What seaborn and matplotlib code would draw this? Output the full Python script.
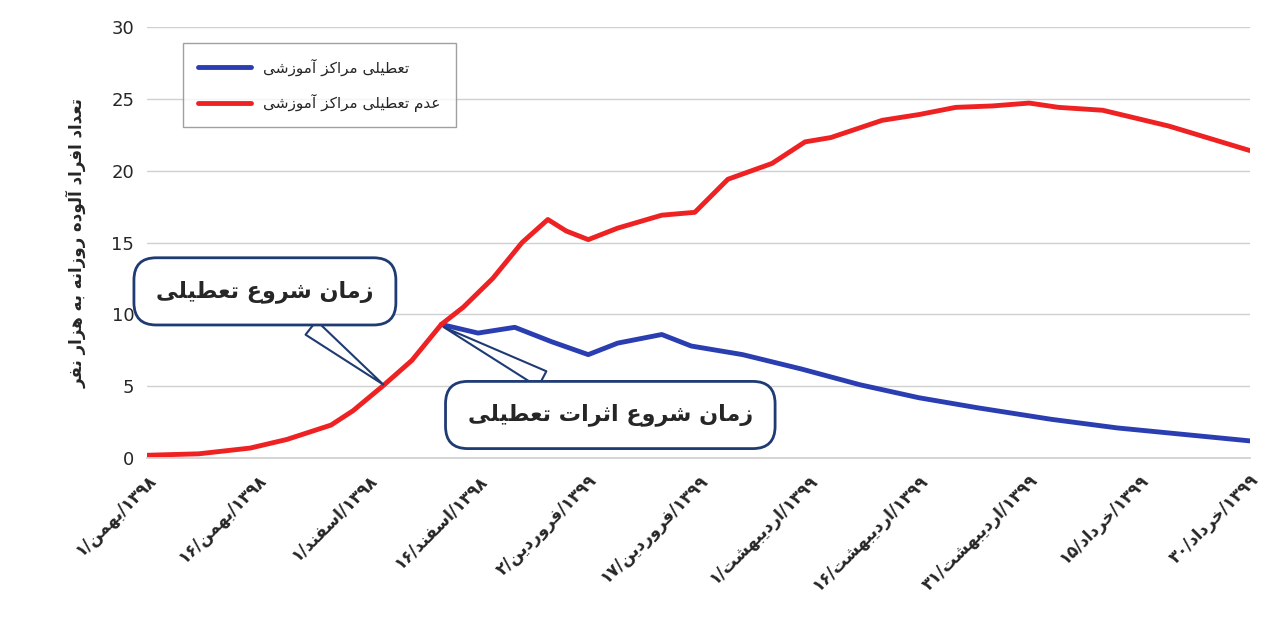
import matplotlib
matplotlib.use("Agg")
import matplotlib.pyplot as plt
import seaborn as sns
import pandas as pd

# ---- data ----
red_days = [0, 7, 14, 19, 25, 28, 32, 36, 40, 43, 47, 51, 54.5, 57, 60, 64, 70, 74.5, 79, 85, 89.5, 93, 100, 105, 110, 115, 120, 124, 130, 139, 150]
red_vals = [0.2, 0.3, 0.7, 1.3, 2.3, 3.3, 5.0, 6.8, 9.3, 10.5, 12.5, 15.0, 16.6, 15.8, 15.2, 16.0, 16.9, 17.1, 19.4, 20.5, 22.0, 22.3, 23.5, 23.9, 24.4, 24.5, 24.7, 24.4, 24.2, 23.1, 21.4]
blue_days = [40, 45, 50, 55, 60, 64, 70, 74, 81, 89, 97, 105, 113, 123, 132, 142, 150]
blue_vals = [9.3, 8.7, 9.1, 8.1, 7.2, 8.0, 8.6, 7.8, 7.2, 6.2, 5.1, 4.2, 3.5, 2.7, 2.1, 1.6, 1.2]
tick_days = [0, 15, 30, 45, 60, 75, 90, 105, 120, 135, 150]
tick_dd = ["۱", "۱۶", "۱", "۱۶", "۲", "۱۷", "۱", "۱۶", "۳۱", "۱۵", "۳۰"]
tick_month = ["بهمن", "بهمن", "اسفند", "اسفند", "فروردین", "فروردین", "اردیبهشت", "اردیبهشت", "اردیبهشت", "خرداد", "خرداد"]
tick_year = ["۱۳۹۸"] * 4 + ["۱۳۹۹"] * 7
blue_name = "تعطیلی مراکز آموزشی"
red_name = "عدم تعطیلی مراکز آموزشی"
ylabel = "تعداد افراد آلوده روزانه به هزار نفر"
note1 = "زمان شروع تعطیلی"
note2 = "زمان شروع اثرات تعطیلی"

# ---- minimal Persian shaping ----
F = {
 'ا': (0xFE8D, 0xFE8E, None, None), 'آ': (0xFE81, 0xFE82, None, None),
 'د': (0xFEA9, 0xFEAA, None, None), 'ر': (0xFEAD, 0xFEAE, None, None),
 'ز': (0xFEAF, 0xFEB0, None, None), 'و': (0xFEED, 0xFEEE, None, None),
 'ب': (0xFE8F, 0xFE90, 0xFE91, 0xFE92), 'پ': (0xFB56, 0xFB57, 0xFB58, 0xFB59),
 'ت': (0xFE95, 0xFE96, 0xFE97, 0xFE98), 'ث': (0xFE99, 0xFE9A, 0xFE9B, 0xFE9C),
 'ج': (0xFE9D, 0xFE9E, 0xFE9F, 0xFEA0), 'خ': (0xFEA5, 0xFEA6, 0xFEA7, 0xFEA8),
 'س': (0xFEB1, 0xFEB2, 0xFEB3, 0xFEB4), 'ش': (0xFEB5, 0xFEB6, 0xFEB7, 0xFEB8),
 'ط': (0xFEC1, 0xFEC2, 0xFEC3, 0xFEC4), 'ع': (0xFEC9, 0xFECA, 0xFECB, 0xFECC),
 'ف': (0xFED1, 0xFED2, 0xFED3, 0xFED4), 'ق': (0xFED5, 0xFED6, 0xFED7, 0xFED8),
 'ک': (0xFB8E, 0xFB8F, 0xFB90, 0xFB91), 'ل': (0xFEDD, 0xFEDE, 0xFEDF, 0xFEE0),
 'م': (0xFEE1, 0xFEE2, 0xFEE3, 0xFEE4), 'ن': (0xFEE5, 0xFEE6, 0xFEE7, 0xFEE8),
 'ه': (0xFEE9, 0xFEEA, 0xFEEB, 0xFEEC), 'ی': (0xFBFC, 0xFBFD, 0xFBFE, 0xFBFF),
}

def shape(s):
    out = []
    for i, c in enumerate(s):
        if c not in F:
            out.append(c); continue
        p = s[i-1] if i > 0 else ''
        n = s[i+1] if i + 1 < len(s) else ''
        jp = p in F and F[p][2] is not None
        jn = F[c][2] is not None and n in F
        f = F[c]
        if jp and jn: ch = f[3]
        elif jp: ch = f[1]
        elif jn: ch = f[2]
        else: ch = f[0]
        out.append(chr(ch))
    return ''.join(out)[::-1]

labels = [f"{d}/{shape(m)}/{y}" for d, m, y in zip(tick_dd, tick_month, tick_year)]

sns.set_theme(style="white")
plt.rcParams['font.family'] = ['DejaVu Sans']
fig = plt.figure(figsize=(12.7, 6.25), dpi=100)
ax = fig.add_axes([0.116, 0.267, 0.868, 0.69])

df_r = pd.DataFrame({"d": red_days, "v": red_vals})
df_b = pd.DataFrame({"d": blue_days, "v": blue_vals})
sns.lineplot(data=df_b, x="d", y="v", ax=ax, color="#2a3eb1", lw=3.5, label=shape(blue_name))
sns.lineplot(data=df_r, x="d", y="v", ax=ax, color="#ee2222", lw=3.5, label=shape(red_name))

ax.set_xlim(0, 150)
ax.set_ylim(0, 30)
ax.set_yticks(range(0, 31, 5))
ax.yaxis.grid(True, color="#d0d0d0", lw=1)
ax.set_axisbelow(True)
for s in ax.spines.values():
    s.set_visible(False)
ax.spines['bottom'].set_visible(True)
ax.spines['bottom'].set_color("#d0d0d0")
ax.set_xticks(tick_days)
ax.set_xticklabels(labels, rotation=45, ha="right", rotation_mode="anchor", fontsize=12, fontweight="bold")
ax.tick_params(axis="y", labelsize=13)
ax.set_xlabel("")
ax.set_ylabel(shape(ylabel), fontsize=12, fontweight="bold", labelpad=18)

leg = ax.legend(loc="upper left", bbox_to_anchor=(0.025, 0.98), fontsize=11, handlelength=3.5,
                frameon=True, edgecolor="#888888", fancybox=False, borderpad=1.0, labelspacing=1.2)

ax.annotate(shape(note1), xy=(32.4, 5.0), xytext=(16, 11.6), fontsize=16, fontweight="bold",
            ha="center", va="center",
            bbox=dict(boxstyle="round,pad=1.0", fc="white", ec="#1f3b73", lw=2),
            arrowprops=dict(arrowstyle="wedge,tail_width=0.8", fc="white", ec="#1f3b73", lw=1.5))
ax.annotate(shape(note2), xy=(40, 9.2), xytext=(63, 3.0), fontsize=16, fontweight="bold",
            ha="center", va="center",
            bbox=dict(boxstyle="round,pad=1.0", fc="white", ec="#1f3b73", lw=2),
            arrowprops=dict(arrowstyle="wedge,tail_width=0.8", fc="white", ec="#1f3b73", lw=1.5))

fig.savefig("out.png", dpi=100)
